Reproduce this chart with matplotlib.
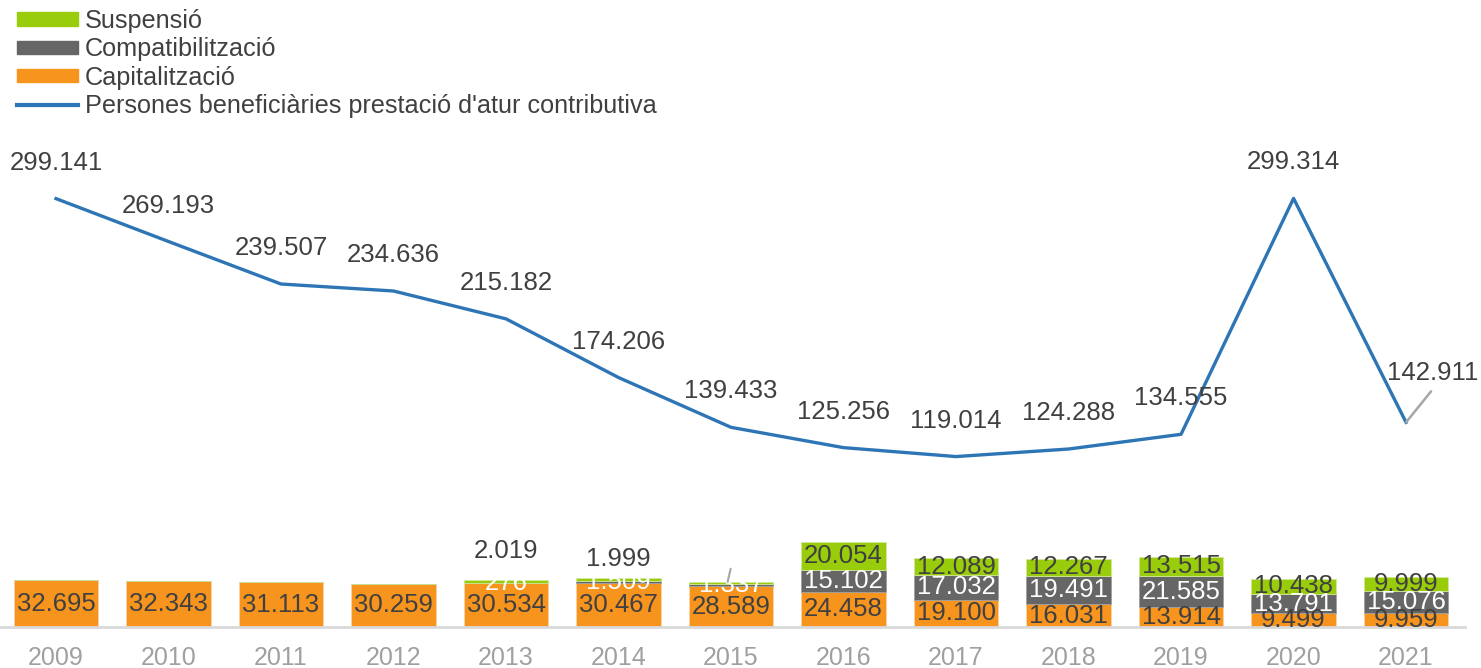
import numpy as np
import matplotlib.pyplot as plt
from matplotlib.patches import Patch
from matplotlib.lines import Line2D

plt.rcParams['font.family'] = ['Liberation Sans', 'DejaVu Sans']

# Data
years = ['2009', '2010', '2011', '2012', '2013', '2014', '2015',
         '2016', '2017', '2018', '2019', '2020', '2021']
capitalitzacio = [32695, 32343, 31113, 30259, 30534, 30467, 28589,
                  24458, 19100, 16031, 13914, 9499, 9959]
compatibilitzacio = [0, 0, 0, 0, 276, 1509, 1337,
                     15102, 17032, 19491, 21585, 13791, 15076]
suspensio = [0, 0, 0, 0, 2019, 1999, 1700,
             20054, 12089, 12267, 13515, 10438, 9999]
beneficiaries = [299141, 269193, 239507, 234636, 215182, 174206, 139433,
                 125256, 119014, 124288, 134555, 299314, 142911]

GREEN = '#99cc0a'
GREY = '#666666'
ORANGE = '#f7941e'
BLUE = '#2e75b6'
TEXT = '#404040'


def fmt(v):
    return f"{v:,}".replace(',', '.')


fig = plt.figure(figsize=(14.81, 6.68), dpi=100)
ax = fig.add_axes([0, 1 - 627 / 668, 1465 / 1481, 497 / 668])

x = np.arange(len(years))
cap = np.array(capitalitzacio)
com = np.array(compatibilitzacio)
sus = np.array(suspensio)
w = 0.75

ax.bar(x, cap, w, color=ORANGE, edgecolor='#fbd3a5', linewidth=0.6, zorder=2)
ax.bar(x, com, w, bottom=cap, color=GREY, edgecolor='#a0a0a0', linewidth=0.6, zorder=2)
ax.bar(x, sus, w, bottom=cap + com, color=GREEN, edgecolor='#d0e89a', linewidth=0.6, zorder=2)

ax.plot(x, beneficiaries, color=BLUE, linewidth=2.4, zorder=3)

fs = 18.5
# bar segment labels
for i in range(len(years)):
    ax.text(x[i], cap[i] / 2, fmt(capitalitzacio[i]), ha='center', va='center',
            fontsize=fs, color=TEXT, zorder=4)
    if com[i] > 0:
        ax.text(x[i], cap[i] + com[i] / 2, fmt(compatibilitzacio[i]), ha='center',
                va='center', fontsize=fs, color='white', zorder=4)

# suspensió labels (some moved above the bar)
sus_offsets = {4: -30, 5: -21}
for i in range(len(years)):
    if sus[i] == 0 or i == 6:
        continue
    yc = cap[i] + com[i] + sus[i] / 2
    dy = sus_offsets.get(i, 0)
    ax.annotate(fmt(suspensio[i]), (x[i], yc), xytext=(0, -dy),
                textcoords='offset pixels', ha='center', va='center',
                fontsize=fs, color=TEXT, zorder=4)

# leader line for the hidden 2015 suspensió label
yc15 = cap[6] + com[6] + sus[6]
ax.annotate('', (x[6] - 0.03, yc15), xytext=(3, 13), textcoords='offset pixels',
            arrowprops=dict(arrowstyle='-', color='#a6a6a6', lw=1.5,
                            shrinkA=0, shrinkB=0), zorder=4)

# line labels
for i in range(len(years)):
    if i == len(years) - 1:
        continue
    ax.annotate(fmt(beneficiaries[i]), (x[i], beneficiaries[i]), xytext=(0, 36),
                textcoords='offset pixels', ha='center', va='center',
                fontsize=fs, color=TEXT, zorder=4)

last = len(years) - 1
ax.annotate(fmt(beneficiaries[last]), (x[last], beneficiaries[last]), xytext=(27, 49),
            textcoords='offset pixels', ha='center', va='center',
            fontsize=fs, color=TEXT, zorder=4)
ax.annotate('', (x[last], beneficiaries[last]), xytext=(25, 31),
            textcoords='offset pixels',
            arrowprops=dict(arrowstyle='-', color='#a6a6a6', lw=1.8,
                            shrinkA=0, shrinkB=0), zorder=4)

ax.set_xlim(-0.498, 12.524)
ax.set_ylim(0, 497 / 1.432e-3)
ax.set_xticks(x)
ax.set_xticklabels(years, fontsize=18, color='#a0a0a0')
ax.tick_params(axis='x', length=0, pad=14)
ax.set_yticks([])
for s in ['top', 'right', 'left']:
    ax.spines[s].set_visible(False)
ax.spines['bottom'].set_color('#d9d9d9')
ax.spines['bottom'].set_linewidth(2)
ax.set_facecolor('none')

handles = [Patch(color=GREEN), Patch(color=GREY), Patch(color=ORANGE),
           Line2D([0], [0], color=BLUE, lw=3)]
labels = ['Suspensió', 'Compatibilització', 'Capitalització',
          "Persones beneficiàries prestació d'atur contributiva"]
fig.legend(handles, labels, loc='upper left', bbox_to_anchor=(7 / 1481, 1 + 1 / 668),
           frameon=False, fontsize=18.2, handlelength=2.4, handleheight=0.45,
           handletextpad=0.28, labelspacing=0.17, borderaxespad=0.15,
           borderpad=0.25, labelcolor=TEXT)

fig.savefig('out.png', dpi=100)
